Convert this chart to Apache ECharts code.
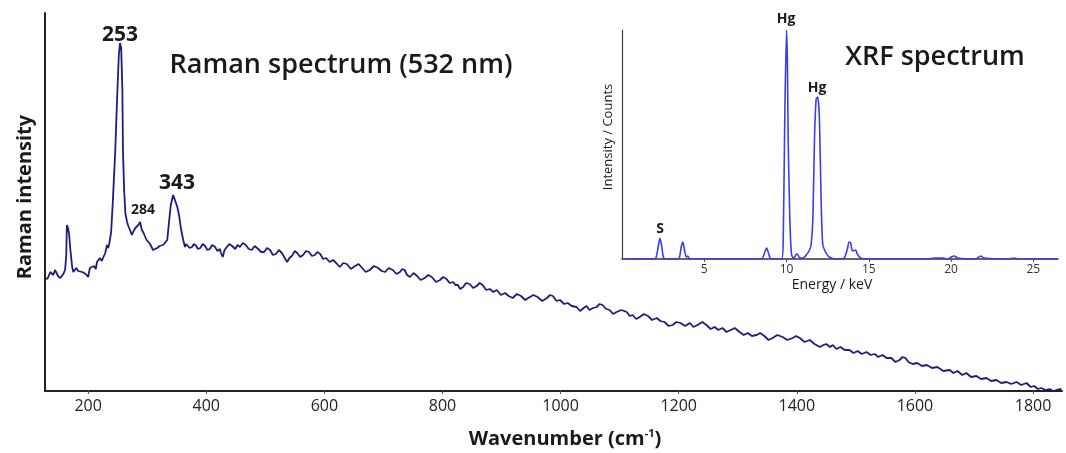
<!DOCTYPE html>
<html>
<head>
<meta charset="utf-8">
<script src="https://cdn.jsdelivr.net/npm/echarts@6/dist/echarts.min.js"></script>
<style>
  html, body { margin: 0; padding: 0; background: #fff; }
  #chart { width: 1066px; height: 453px; }
</style>
</head>
<body>
<div id="chart"></div>
<script>
// Raman spectrum (wavenumber cm-1 / arbitrary intensity)
const ramanShift = [127, 131, 136, 141, 144, 149, 153, 158, 161, 163, 164, 166, 168, 170, 173, 175, 180, 183, 186, 190,
  193, 196, 198, 200, 203, 206, 210, 213, 215, 218, 220, 223, 225, 229, 232, 234, 236, 239, 242, 246,
  249, 252, 254, 256, 258, 259, 261, 263, 266, 268, 271, 274, 277, 280, 283, 285, 288, 291, 294, 296,
  299, 302, 305, 307, 310, 313, 317, 321, 324, 327, 330, 334, 337, 340, 344, 347, 351, 354, 357, 361,
  364, 366, 369, 372, 376, 379, 383, 386, 390, 394, 398, 402, 406, 410, 415, 419, 423, 425, 428, 431,
  434, 439, 444, 449, 453, 457, 462, 467, 472, 477, 482, 488, 493, 498, 503, 508, 513, 518, 523, 528,
  532, 537, 541, 545, 550, 554, 559, 564, 569, 574, 579, 584, 588, 593, 598, 603, 609, 615, 620, 626,
  632, 638, 645, 652, 658, 664, 670, 677, 684, 691, 697, 703, 709, 716, 722, 728, 732, 736, 740, 745,
  751, 757, 763, 770, 776, 782, 789, 796, 801, 807, 812, 818, 822, 826, 830, 835, 840, 846, 852, 858,
  863, 868, 874, 880, 886, 892, 899, 906, 912, 919, 926, 933, 940, 948, 954, 961, 969, 977, 982, 987,
  993, 999, 1006, 1012, 1019, 1027, 1033, 1039, 1044, 1049, 1055, 1061, 1066, 1071, 1077, 1083, 1089, 1095, 1103, 1112,
  1117, 1122, 1128, 1134, 1141, 1148, 1155, 1163, 1169, 1176, 1183, 1190, 1196, 1203, 1211, 1219, 1225, 1232, 1240, 1247,
  1254, 1261, 1267, 1274, 1281, 1288, 1295, 1303, 1310, 1317, 1324, 1332, 1338, 1345, 1352, 1359, 1367, 1376, 1384, 1393,
  1399, 1405, 1413, 1422, 1430, 1439, 1445, 1450, 1456, 1461, 1467, 1474, 1481, 1489, 1496, 1503, 1510, 1518, 1525, 1532,
  1538, 1545, 1552, 1560, 1567, 1574, 1579, 1584, 1587, 1589, 1596, 1604, 1612, 1620, 1629, 1638, 1648, 1659, 1665, 1672,
  1680, 1687, 1695, 1704, 1712, 1721, 1729, 1738, 1746, 1755, 1763, 1772, 1780, 1789, 1796, 1802, 1808, 1814, 1821, 1828,
  1834, 1840, 1848];
const ramanIntensity = [113, 112, 119, 116, 121, 115, 113, 117, 121, 136, 166, 163, 156, 141, 124, 119, 123, 120, 122, 119,
  121, 117, 119, 114, 123, 121, 125, 122, 129, 127, 133, 130, 128, 138, 146, 143, 148, 159, 191, 241,
  291, 336, 348, 343, 301, 241, 201, 178, 169, 165, 161, 156, 160, 163, 161, 166, 169, 161, 158, 155,
  151, 149, 147, 145, 141, 143, 143, 145, 144, 146, 147, 151, 169, 186, 196, 191, 184, 176, 163, 151,
  144, 147, 146, 143, 144, 147, 145, 142, 143, 147, 145, 141, 142, 146, 144, 140, 142, 138, 134, 141,
  143, 147, 145, 142, 146, 144, 148, 146, 142, 141, 145, 142, 139, 139, 143, 141, 136, 137, 141, 138,
  134, 129, 133, 135, 140, 138, 134, 136, 140, 139, 135, 136, 139, 137, 132, 133, 129, 131, 128, 124,
  128, 127, 122, 125, 127, 123, 119, 121, 125, 123, 120, 119, 123, 121, 117, 119, 122, 121, 116, 114,
  118, 115, 111, 113, 116, 114, 109, 111, 114, 112, 108, 109, 106, 106, 102, 104, 108, 107, 103, 105,
  108, 106, 101, 102, 99, 101, 96, 98, 95, 93, 97, 95, 91, 94, 96, 94, 90, 93, 96, 95,
  90, 91, 87, 88, 85, 84, 80, 83, 85, 81, 83, 84, 87, 86, 82, 81, 77, 79, 81, 79,
  75, 76, 72, 74, 77, 75, 71, 73, 70, 69, 65, 66, 69, 68, 65, 68, 64, 66, 69, 66,
  62, 64, 61, 63, 59, 61, 63, 59, 56, 58, 55, 56, 58, 55, 51, 53, 56, 54, 51, 53,
  55, 53, 49, 51, 47, 44, 46, 47, 44, 46, 42, 44, 41, 41, 38, 40, 37, 39, 36, 37,
  34, 36, 33, 33, 29, 31, 34, 33, 34, 29, 27, 28, 25, 26, 23, 24, 20, 21, 18, 20,
  16, 18, 14, 15, 12, 13, 10, 11, 8, 9, 7, 9, 6, 8, 4, 5, 2, 3, 1, 2,
  0, 1, 2];
const ramanTicks = [200, 400, 600, 800, 1000, 1200, 1400, 1600, 1800];

// XRF inset (energy keV / counts)
const xrfEnergy = [0.2, 1.0, 2.0, 2.1, 2.2, 2.3, 2.4, 2.5, 2.6, 3.4, 3.5, 3.6, 3.7, 3.8, 3.9, 4.0, 4.1, 5.0, 7.0, 8.5,
  8.6, 8.7, 8.8, 8.9, 9.0, 9.1, 9.7, 9.8, 9.9, 10.0, 10.05, 10.1, 10.2, 10.3, 10.4, 10.5, 10.6, 10.7, 10.8, 11.0,
  11.2, 11.4, 11.5, 11.6, 11.7, 11.8, 11.9, 12.0, 12.1, 12.2, 12.4, 12.6, 13.0, 13.5, 13.7, 13.8, 13.9, 14.0, 14.2, 14.3,
  14.5, 15.0, 18.5, 19.0, 19.5, 19.8, 20.0, 20.2, 20.4, 21.5, 21.8, 22.0, 23.5, 23.8, 24.1, 26.5];
const xrfCounts = [0, 0, 0, 3, 12, 21, 14, 3, 0, 0, 2, 12, 17, 9, 2, 3, 0, 0, 0, 0,
  3, 8, 11, 6, 1, 0, 0, 20, 150, 229, 200, 120, 40, 5, 1, 2, 5, 4, 1, 1,
  4, 9, 15, 40, 120, 160, 162, 140, 60, 15, 6, 2, 0, 1, 10, 17, 16, 8, 9, 5,
  1, 0, 0, 1, 1, 0, 2, 3, 1, 0, 3, 1, 0, 1, 0, 0];
const xrfTicks = [5, 10, 15, 20, 25];

const FONT = '"Open Sans", "DejaVu Sans", sans-serif';
const myChart = echarts.init(document.getElementById('chart'));

const ramanData = ramanShift.map((v, i) => [v, ramanIntensity[i]]);
const xrfData = xrfEnergy.map((v, i) => [v, xrfCounts[i]]);

const txt = (x, y, text, size, weight, extra) => Object.assign({
  type: 'text', x: x, y: y, silent: true,
  style: { text: text, fill: '#1a1a1a', font: weight + ' ' + size + 'px ' + FONT, align: 'center', verticalAlign: 'middle' }
}, extra || {});

const option = {
  animation: false,
  backgroundColor: '#fff',
  grid: [
    { left: 45, top: 13, right: 4, bottom: 62 },
    { left: 622, top: 30, width: 436, height: 229 }
  ],
  xAxis: [
    {
      type: 'value', gridIndex: 0, min: 127, max: 1849,
      splitLine: { show: false },
      axisLine: { lineStyle: { color: '#222', width: 2 } },
      axisTick: { show: true, length: 3, customValues: ramanTicks, lineStyle: { color: '#555' } },
      axisLabel: { customValues: ramanTicks, formatter: (v) => String(v), color: '#222', fontSize: 16, fontFamily: FONT, margin: 7 }
    },
    {
      type: 'value', gridIndex: 1, min: 0, max: 26.5,
      splitLine: { show: false },
      axisLine: { lineStyle: { color: '#333', width: 1.5 } },
      axisTick: { show: true, length: 3, customValues: xrfTicks, lineStyle: { color: '#555' } },
      axisLabel: { customValues: xrfTicks, formatter: (v) => String(v), color: '#333', fontSize: 12, fontFamily: FONT, margin: 5 }
    }
  ],
  yAxis: [
    {
      type: 'value', gridIndex: 0, min: 0, max: 378,
      splitLine: { show: false }, axisTick: { show: false }, axisLabel: { show: false },
      axisLine: { show: true, lineStyle: { color: '#222', width: 2 } }
    },
    {
      type: 'value', gridIndex: 1, min: 0, max: 229,
      splitLine: { show: false }, axisTick: { show: false }, axisLabel: { show: false },
      axisLine: { show: true, lineStyle: { color: '#444', width: 1.2 } }
    }
  ],
  series: [
    {
      name: 'Raman', type: 'line', xAxisIndex: 0, yAxisIndex: 0,
      data: ramanData, showSymbol: false, sampling: null,
      lineStyle: { color: '#1d1d7e', width: 1.8 }
    },
    {
      name: 'XRF', type: 'line', xAxisIndex: 1, yAxisIndex: 1,
      data: xrfData, showSymbol: false, smooth: 0.2,
      lineStyle: { color: '#3c3cf0', width: 1.6 }
    }
  ],
  graphic: [
    txt(341, 65, 'Raman spectrum (532 nm)', 27, 600),
    txt(935, 57, 'XRF spectrum', 27, 600),
    txt(120, 35, '253', 21, 'bold'),
    txt(177, 183, '343', 21, 'bold'),
    txt(143, 210, '284', 14, 'bold'),
    txt(786, 19, 'Hg', 14, 'bold'),
    txt(817, 88, 'Hg', 14, 'bold'),
    txt(660, 229, 'S', 14, 'bold'),
    txt(25, 197, 'Raman intensity', 20, 'bold', { rotation: Math.PI / 2 }),
    txt(608, 137, 'Intensity / Counts', 13, 'normal', { rotation: Math.PI / 2 }),
    txt(832, 285, 'Energy / keV', 14, 'normal'),
    {
      type: 'text', x: 565, y: 439, silent: true,
      style: {
        text: '{a|Wavenumber (cm}{b|-1}{a|)}', align: 'center', verticalAlign: 'middle',
        rich: {
          a: { fontSize: 20, fontWeight: 'bold', fontFamily: FONT, fill: '#1a1a1a', color: '#1a1a1a' },
          b: { fontSize: 11, fontWeight: 'bold', fontFamily: FONT, fill: '#1a1a1a', color: '#1a1a1a', verticalAlign: 'top', padding: [0, 0, 10, 0] }
        }
      }
    }
  ]
};

myChart.setOption(option);
</script>
</body>
</html>
